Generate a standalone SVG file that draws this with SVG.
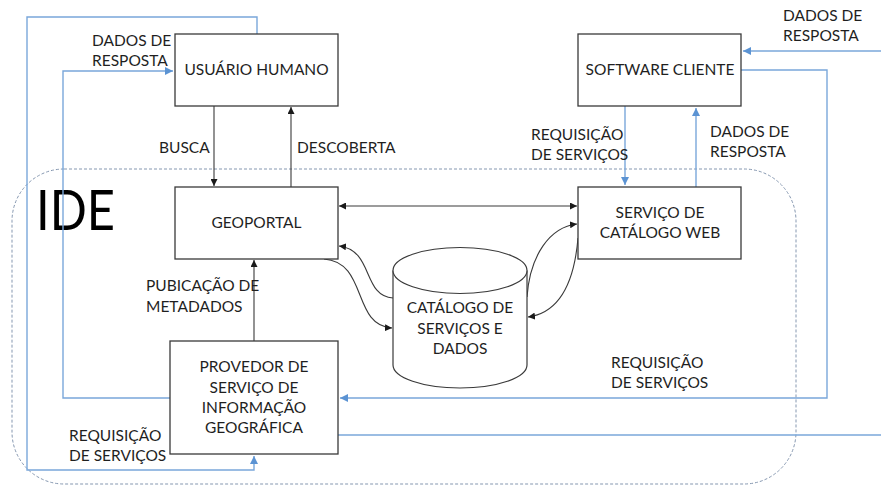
<svg xmlns="http://www.w3.org/2000/svg" width="881" height="486" viewBox="0 0 881 486">
<defs>
<style>
.box{fill:#fff;stroke:#3a3a3a;stroke-width:1.3}
.t{font-family:Lato,"Liberation Sans",sans-serif;font-size:15.5px;fill:#1f1f1f}
.c{text-anchor:middle}
.blk{fill:none;stroke:#3a3a3a;stroke-width:1.1}
.blu{fill:none;stroke:#7aa7da;stroke-width:1.4}
</style>
<marker id="ak" viewBox="0 0 10 10" refX="10" refY="5" markerWidth="7" markerHeight="7" markerUnits="userSpaceOnUse" orient="auto-start-reverse"><path d="M0,0L10,5L0,10z" fill="#1a1a1a"/></marker>
<marker id="ab" viewBox="0 0 10 10" refX="10" refY="5" markerWidth="8" markerHeight="8" markerUnits="userSpaceOnUse" orient="auto"><path d="M0,0L10,5L0,10z" fill="#5b93d3"/></marker>
</defs>
<rect width="881" height="486" fill="#fff"/>
<rect id="ide-boundary" x="12" y="169" width="784" height="315" rx="52" ry="52" fill="none" stroke="#8597b0" stroke-width="1" stroke-dasharray="3,2"/>
<text x="36" y="230" font-family="Lato,'Liberation Sans',sans-serif" font-size="57" fill="#000" textLength="79" lengthAdjust="spacingAndGlyphs">IDE</text>
<g id="connectors">
<path class="blu" d="M257,34V17H27V470H254V456" marker-end="url(#ab)"/>
<path class="blu" d="M170,398H63V71H173" marker-end="url(#ab)"/>
<path class="blu" d="M881,51H743" marker-end="url(#ab)"/>
<path class="blu" d="M741,70H827V398H340" marker-end="url(#ab)"/>
<path class="blu" d="M338,435H881"/>
<path class="blu" d="M625,106V185" marker-end="url(#ab)"/>
<path class="blu" d="M696,187V108" marker-end="url(#ab)"/>
<path class="blk" d="M214,106V186" marker-end="url(#ak)"/>
<path class="blk" d="M291,187V107" marker-end="url(#ak)"/>
<path class="blk" d="M339,206H577" marker-start="url(#ak)" marker-end="url(#ak)"/>
<path class="blk" d="M254,341V260" marker-end="url(#ak)"/>
<path class="blk" d="M393,298C362,296 374,250 339,246" marker-end="url(#ak)"/>
<path class="blk" d="M324,259C368,262 352,326 392,328" marker-end="url(#ak)"/>
<path class="blk" d="M527,297C530,255 550,227 577,224" marker-end="url(#ak)"/>
<path class="blk" d="M578,238C574,285 558,313 528,317" marker-end="url(#ak)"/>
</g>
<g id="usuario"><rect class="box" x="175" y="34" width="163" height="72"/><text class="t c" x="256.5" y="75">USUÁRIO HUMANO</text></g>
<g id="geoportal"><rect class="box" x="175" y="187" width="163" height="72"/><text class="t c" x="256.5" y="228">GEOPORTAL</text></g>
<g id="software"><rect class="box" x="578" y="34" width="163" height="72"/><text class="t c" x="660" y="75">SOFTWARE CLIENTE</text></g>
<g id="servico"><rect class="box" x="578" y="187" width="163" height="72"/><text class="t c" x="660" y="218">SERVIÇO DE</text><text class="t c" x="660" y="238">CATÁLOGO WEB</text></g>
<g id="provedor"><rect class="box" x="170" y="341" width="168" height="113"/><text class="t c" x="254" y="372">PROVEDOR DE</text><text class="t c" x="254" y="393">SERVIÇO DE</text><text class="t c" x="254" y="413">INFORMAÇÃO</text><text class="t c" x="254" y="433">GEOGRÁFICA</text></g>
<g id="catalogo">
<path d="M393,270.5V365A67,23 0 0 0 527,365V270.5" fill="#fff" stroke="#3a3a3a" stroke-width="1.2"/>
<ellipse cx="460" cy="270.5" rx="67" ry="23" fill="#fff" stroke="#3a3a3a" stroke-width="1.2"/>
<text class="t c" x="460" y="313">CATÁLOGO DE</text><text class="t c" x="460" y="334">SERVIÇOS E</text><text class="t c" x="460" y="354">DADOS</text>
</g>
<g id="labels">
<text class="t" x="92" y="46">DADOS DE</text><text class="t" x="92" y="66">RESPOSTA</text>
<text class="t" x="159" y="153">BUSCA</text>
<text class="t" x="297" y="153">DESCOBERTA</text>
<text class="t" x="783" y="21">DADOS DE</text><text class="t" x="783" y="41">RESPOSTA</text>
<text class="t" x="531" y="140">REQUISIÇÃO</text><text class="t" x="531" y="160">DE SERVIÇOS</text>
<text class="t" x="710" y="137">DADOS DE</text><text class="t" x="710" y="157">RESPOSTA</text>
<text class="t" x="146" y="291">PUBICAÇÃO DE</text><text class="t" x="146" y="312">METADADOS</text>
<text class="t" x="69" y="441">REQUISIÇÃO</text><text class="t" x="69" y="461">DE SERVIÇOS</text>
<text class="t" x="611" y="368">REQUISIÇÃO</text><text class="t" x="611" y="388">DE SERVIÇOS</text>
</g>
</svg>
